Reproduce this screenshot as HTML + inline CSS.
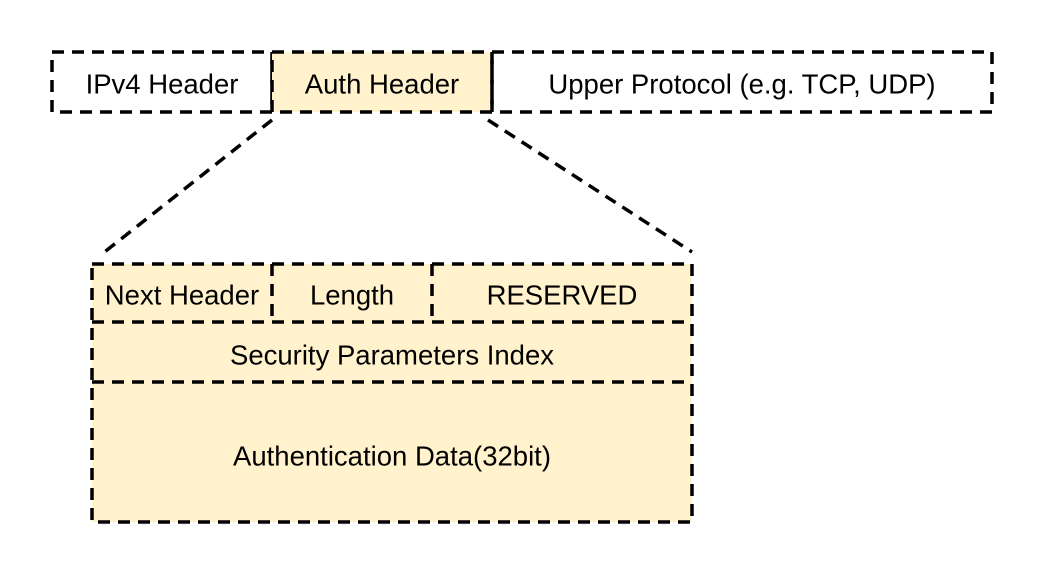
<!DOCTYPE html>
<html><head><style>
body{margin:0;background:#fff;width:1044px;height:574px;overflow:hidden}
text{font-family:"Liberation Sans",Helvetica,Arial,sans-serif;font-size:27.5px;fill:#000;text-anchor:middle;dominant-baseline:central}
</style></head><body>
<svg width="1044" height="574" xmlns="http://www.w3.org/2000/svg">
<g stroke="#000" stroke-width="3.5" stroke-dasharray="12 8" fill="none">
<rect x="52" y="52" width="220" height="60"/>
<rect x="272" y="52" width="220" height="60" fill="#fff2cc"/>
<rect x="492" y="52" width="500" height="60"/>
<line x1="272" y1="120" x2="102" y2="254"/>
<line x1="488" y1="120" x2="692" y2="252"/>
<rect x="92" y="264" width="600" height="258" fill="#fff2cc"/>
<line x1="92" y1="322" x2="692" y2="322"/>
<line x1="92" y1="382" x2="692" y2="382"/>
<line x1="272" y1="264" x2="272" y2="322"/>
<line x1="432" y1="264" x2="432" y2="322"/>
</g>
<text x="162" y="84">IPv4 Header</text>
<text x="382" y="84">Auth Header</text>
<text x="742" y="84">Upper Protocol (e.g. TCP, UDP)</text>
<text x="182" y="295">Next Header</text>
<text x="352" y="295">Length</text>
<text x="562" y="295">RESERVED</text>
<text x="392" y="355">Security Parameters Index</text>
<text x="392" y="456">Authentication Data(32bit)</text>
</svg>
</body></html>
